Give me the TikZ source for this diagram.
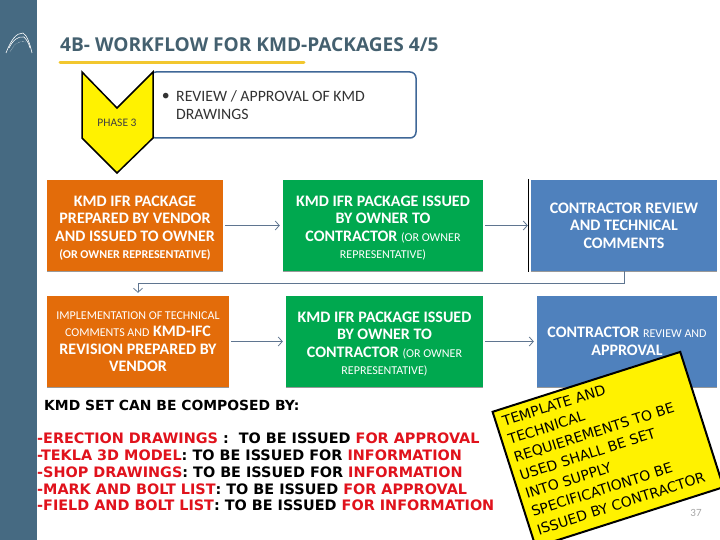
\documentclass[tikz,border=0pt]{standalone}
\usepackage{fontspec}
\setmainfont{Carlito}
\newfontfamily\listfont{DejaVu Sans}
\newfontfamily\titlefont{Open Sans}
\usetikzlibrary{arrows.meta}
\definecolor{sidebar}{HTML}{466A82}
\definecolor{titleink}{HTML}{44606F}
\definecolor{rule}{HTML}{F2C72E}
\definecolor{orangebox}{HTML}{E36C0A}
\definecolor{greenbox}{HTML}{00A84F}
\definecolor{bluebox}{HTML}{4F81BD}
\definecolor{flowline}{HTML}{5F7590}
\definecolor{listred}{HTML}{E0121C}
\newcommand{\smalltxt}[1]{{\mdseries\fontsize{12}{17}\selectfont #1}}
\newcommand{\redtxt}[1]{\textcolor{listred}{#1}}
\newcommand{\topgap}{\rule{0pt}{16pt}}
\tikzset{
	packbox/.style={minimum height=91pt,inner sep=0pt,align=center,text=white,
		font=\bfseries\fontsize{16}{17.5}\selectfont},
	flow/.style={draw=flowline,line width=0.8pt,-{Straight Barb[length=4pt,width=9pt]},shorten >=3pt,shorten <=2pt},
	edge/.style={draw=gray!80,line width=0.8pt},
	listitem/.style={anchor=west,inner sep=0pt,font=\listfont\bfseries\fontsize{14.4}{17}\selectfont},
}
\begin{document}
\begin{tikzpicture}[x=1pt,y=-1pt]
	\useasboundingbox (0,0) rectangle (720,540);
	\fill [sidebar] (0,0) rectangle (37,540);
	% logo
	\draw [white,line width=0.6pt] (6,53) .. controls (11,40) and (16,33) .. (23,33) .. controls (27,35) and (30,44) .. (32,53);
	\draw [white,line width=0.6pt] (9,48) .. controls (13,40) and (18,36) .. (24,37) .. controls (27,40) and (29,44) .. (30,48);
	\draw [white,line width=0.4pt,densely dotted] (10,52) .. controls (14,44) and (19,40) .. (26,42);

	\node (title) [anchor=west,text=titleink,font=\titlefont\bfseries\fontsize{19.1}{22}\selectfont,inner sep=0pt] at (60,44.5) {4B- WORKFLOW FOR KMD-PACKAGES 4/5};
	\draw [rule,line width=3pt,line cap=round] (60,62.5) -- (304,62.5);

	% phase
	\draw [draw=bluebox!80!black,fill=white,line width=1.5pt,rounded corners=6pt] (150,72) -- (416,72) -- (416,138) -- (150,138) -- cycle;
	\node (review) [anchor=north west,align=left,inner sep=0pt,text=black!80,font=\fontsize{15.8}{18}\selectfont] at (176,90) {REVIEW / APPROVAL OF KMD\\DRAWINGS};
	\node (bullet) [anchor=east,inner sep=0pt,text=black!80,font=\fontsize{15.8}{18}\selectfont] at (170,97) {\textbullet};
	\draw [fill=yellow,line width=1.5pt] (82,72) -- (117,108) -- (153,72) -- (153,138) -- (117,173) -- (82,138) -- cycle;
	\node (phase) [text=black!75,font=\fontsize{11.5}{13}\selectfont,inner sep=0pt] at (117,123) {PHASE 3};

	% packages
	\node (orangeA) [packbox,fill=orangebox,minimum width=176pt] at (135,225.5) {\topgap KMD IFR PACKAGE\\PREPARED BY VENDOR\\AND ISSUED TO OWNER\\{\fontsize{12}{15}\selectfont (OR OWNER REPRESENTATIVE)}};
	\node (greenA) [packbox,fill=greenbox,minimum width=200pt] at (383,225.5) {\topgap KMD IFR PACKAGE ISSUED\\BY OWNER TO\\CONTRACTOR \smalltxt{(OR OWNER}\\\smalltxt{REPRESENTATIVE)}};
	\node (blueA) [packbox,fill=bluebox,minimum width=186pt] at (624,225.5) {CONTRACTOR REVIEW\\AND TECHNICAL\\COMMENTS};
	\node (orangeB) [packbox,fill=orangebox,minimum width=182pt] at (138,341.5) {\smalltxt{IMPLEMENTATION OF TECHNICAL}\\\smalltxt{COMMENTS AND} KMD-IFC\\REVISION PREPARED BY\\VENDOR};
	\node (greenB) [packbox,fill=greenbox,minimum width=197pt] at (384.5,341.5) {\topgap KMD IFR PACKAGE ISSUED\\BY OWNER TO\\CONTRACTOR \smalltxt{(OR OWNER}\\\smalltxt{REPRESENTATIVE)}};
	\node (blueB) [packbox,fill=bluebox,minimum width=180pt] at (627,341.5) {CONTRACTOR \smalltxt{REVIEW AND}\\APPROVAL};

	\draw [edge] (orangeA.south west) -- (orangeA.south east);
	\draw [edge] (greenA.south west) -- (greenA.south east);
	\draw [edge] (blueA.south west) -- (blueA.south east);
	\draw [edge] (orangeB.south west) -- (orangeB.south east);
	\draw [edge] (greenB.south west) -- (greenB.south east);
	\draw [edge] (blueB.south west) -- (blueB.south east);
	\draw [black,line width=0.8pt] ([xshift=-2.5pt,yshift=1pt]blueA.north west) -- ([xshift=-2.5pt,yshift=-1pt]blueA.south west);

	\draw [flow] (orangeA) -- (greenA);
	\draw [flow] (greenA) -- (blueA);
	\draw [flow,shorten <=0pt] (blueA.south) -- ++(0,12.5) -| (orangeB.north);
	\draw [flow] (orangeB) -- (greenB);
	\draw [flow] (greenB) -- (blueB);

	% list
	\node (setlist) [listitem,font=\listfont\bfseries\fontsize{13.9}{17}\selectfont] at (44,405) {KMD SET CAN BE COMPOSED BY:};
	\node (itemA) [listitem] at (37,438) {\redtxt{-ERECTION DRAWINGS} :\ \ TO BE ISSUED \redtxt{FOR APPROVAL}};
	\node (itemB) [listitem] at (37,455) {\redtxt{-TEKLA 3D MODEL}: TO BE ISSUED FOR \redtxt{INFORMATION}};
	\node (itemC) [listitem] at (37,472) {\redtxt{-SHOP DRAWINGS}: TO BE ISSUED FOR \redtxt{INFORMATION}};
	\node (itemD) [listitem] at (37,489) {\redtxt{-MARK AND BOLT LIST}: TO BE ISSUED \redtxt{FOR APPROVAL}};
	\node (itemE) [listitem] at (37,505) {\redtxt{-FIELD AND BOLT LIST}: TO BE ISSUED \redtxt{FOR INFORMATION}};

	\node (pagenum) [text=black!35,font=\fontsize{11}{13}\selectfont,inner sep=0pt] at (696,513) {37};

	% note
	\node (note) [rotate=17.7,draw=black,fill=yellow,line width=2pt,minimum width=197pt,minimum height=142pt,inner sep=0pt] at (608,449.5) {};
	\node (notetext) [rotate=17.7,anchor=west,align=left,inner sep=0pt,font=\listfont\fontsize{14}{19}\selectfont] at (520,476) {TEMPLATE AND\\TECHNICAL\\REQUIEREMENTS TO BE\\USED SHALL BE SET\\INTO SUPPLY\\SPECIFICATIONTO BE\\ISSUED BY CONTRACTOR};
\end{tikzpicture}
\end{document}
